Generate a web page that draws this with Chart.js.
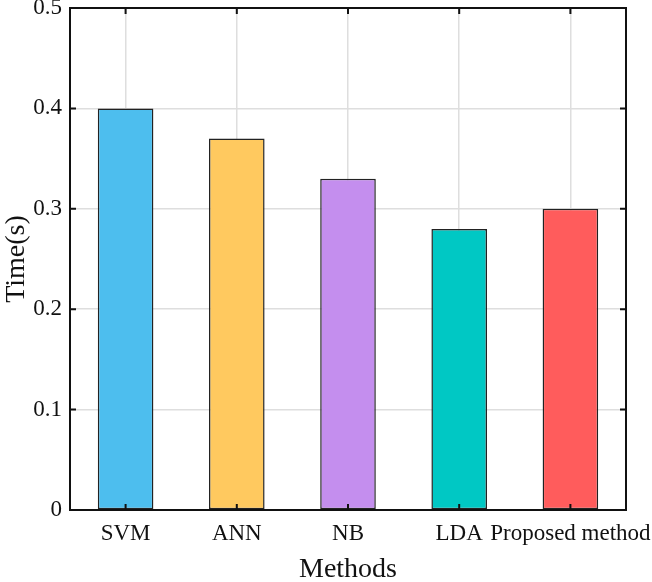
<!DOCTYPE html>
<html>
<head>
<meta charset="utf-8">
<script src="https://cdn.jsdelivr.net/npm/chart.js@4/dist/chart.umd.min.js"></script>
<style>
  html, body { margin: 0; padding: 0; background: #fff; }
  #wrap { width: 652px; height: 582px; }
</style>
</head>
<body>
<div id="wrap"><canvas id="myChart" width="652" height="582"></canvas></div>
<script>
// Data
const methods = ['SVM', 'ANN', 'NB', 'LDA', 'Proposed method'];
const times = [0.40, 0.37, 0.33, 0.28, 0.30];
const barColors = ['#4DBEEE', '#FFC95F', '#C48EEE', '#00C8C4', '#FF5C5C'];
const yTicks = ['0', '0.1', '0.2', '0.3', '0.4', '0.5'];

const serif = "'Liberation Serif', 'Times New Roman', serif";

// box around the plot + inward tick marks (matlab style)
const boxTicks = {
  id: 'boxTicks',
  afterDatasetsDraw(chart) {
    const ctx = chart.ctx;
    const a = chart.chartArea;
    const xs = chart.scales.x, ys = chart.scales.y;
    const len = 6;
    ctx.save();
    ctx.strokeStyle = '#111';
    ctx.lineWidth = 2;
    ctx.beginPath();
    xs.ticks.forEach((t, i) => {
      const px = xs.getPixelForTick(i);
      ctx.moveTo(px, a.bottom); ctx.lineTo(px, a.bottom - len);
      ctx.moveTo(px, a.top); ctx.lineTo(px, a.top + len);
    });
    ys.ticks.forEach((t, i) => {
      const py = ys.getPixelForTick(i);
      ctx.moveTo(a.left, py); ctx.lineTo(a.left + len, py);
      ctx.moveTo(a.right, py); ctx.lineTo(a.right - len, py);
    });
    ctx.stroke();
    ctx.strokeRect(a.left, a.top, a.right - a.left, a.bottom - a.top);
    ctx.restore();
  }
};

const data = {
  labels: methods,
  datasets: [{
    data: times,
    backgroundColor: barColors,
    borderColor: '#222',
    borderWidth: 1.5,
    borderSkipped: false,
    barPercentage: 0.5,
    categoryPercentage: 1.0
  }]
};

const config = {
  type: 'bar',
  data: data,
  options: {
    responsive: false,
    animation: false,
    layout: { padding: { top: 8, right: 26, left: 0, bottom: 0 } },
    plugins: {
      legend: { display: false },
      tooltip: { enabled: false }
    },
    scales: {
      x: {
        afterFit(s) { s.height = 72; s.paddingLeft = 0; s.paddingRight = 0; },
        grid: { color: '#dedede', lineWidth: 1.5, offset: false, drawTicks: false },
        border: { display: false },
        ticks: {
          color: '#111',
          padding: 10,
          maxRotation: 0,
          autoSkip: false,
          font: { family: serif, size: 23 }
        },
        title: {
          display: true,
          text: 'Methods',
          color: '#111',
          padding: { top: 0, bottom: -4 },
          font: { family: serif, size: 28 }
        }
      },
      y: {
        afterFit(s) { s.width = 70; s.paddingTop = 0; s.paddingBottom = 0; },
        min: 0,
        max: 0.5,
        grid: { color: '#dedede', lineWidth: 1.5, drawTicks: false },
        border: { display: false },
        ticks: {
          stepSize: 0.1,
          color: '#111',
          padding: 8,
          font: { family: serif, size: 23 },
          callback: (v, i) => yTicks[i]
        },
        title: {
          display: true,
          text: 'Time(s)',
          color: '#111',
          padding: { top: 0, bottom: 4 },
          font: { family: serif, size: 28 }
        }
      }
    }
  },
  plugins: [boxTicks]
};

var myChart = new Chart(document.getElementById('myChart'), config);
</script>
</body>
</html>
